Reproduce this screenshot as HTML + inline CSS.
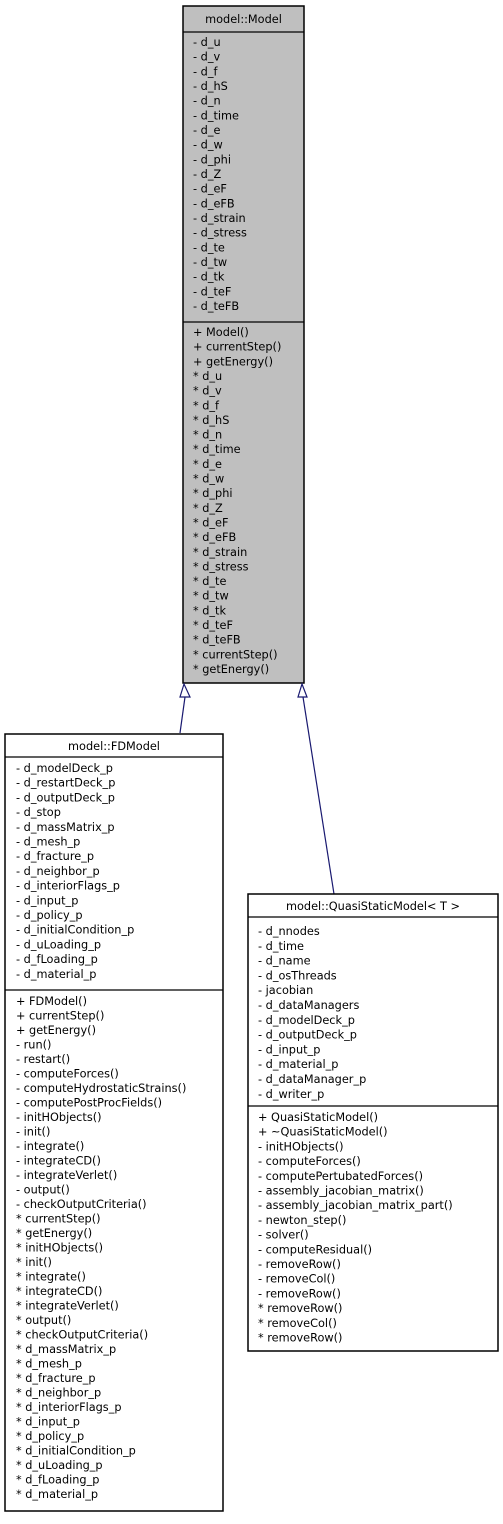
<!DOCTYPE html>
<html><head><meta charset="utf-8"><style>
html,body{margin:0;padding:0;background:#fff;}
svg text{font-family:"DejaVu Sans","Liberation Sans",sans-serif;font-size:11.3px;fill:#000;}
</style></head><body>
<svg width="503" height="1519" xmlns="http://www.w3.org/2000/svg">
<!-- Model -->
<rect x="183" y="6" width="121" height="677" fill="#bfbfbf" stroke="#000" stroke-width="1.5"/>
<line x1="183" y1="32" x2="304" y2="32" stroke="#000" stroke-width="1.2"/>
<line x1="183" y1="322" x2="304" y2="322" stroke="#000" stroke-width="1.2"/>
<text x="243.5" y="23" text-anchor="middle">model::Model</text>
<g>
<text x="193" y="46">- d_u</text>
<text x="193" y="60.67">- d_v</text>
<text x="193" y="75.33">- d_f</text>
<text x="193" y="90">- d_hS</text>
<text x="193" y="104.67">- d_n</text>
<text x="193" y="119.33">- d_time</text>
<text x="193" y="134">- d_e</text>
<text x="193" y="148.67">- d_w</text>
<text x="193" y="163.33">- d_phi</text>
<text x="193" y="178">- d_Z</text>
<text x="193" y="192.67">- d_eF</text>
<text x="193" y="207.33">- d_eFB</text>
<text x="193" y="222">- d_strain</text>
<text x="193" y="236.67">- d_stress</text>
<text x="193" y="251.33">- d_te</text>
<text x="193" y="266">- d_tw</text>
<text x="193" y="280.67">- d_tk</text>
<text x="193" y="295.33">- d_teF</text>
<text x="193" y="310">- d_teFB</text>
</g>
<g>
<text x="193" y="336">+ Model()</text>
<text x="193" y="350.65">+ currentStep()</text>
<text x="193" y="365.3">+ getEnergy()</text>
<text x="193" y="379.95">* d_u</text>
<text x="193" y="394.6">* d_v</text>
<text x="193" y="409.25">* d_f</text>
<text x="193" y="423.9">* d_hS</text>
<text x="193" y="438.55">* d_n</text>
<text x="193" y="453.2">* d_time</text>
<text x="193" y="467.85">* d_e</text>
<text x="193" y="482.5">* d_w</text>
<text x="193" y="497.15">* d_phi</text>
<text x="193" y="511.8">* d_Z</text>
<text x="193" y="526.45">* d_eF</text>
<text x="193" y="541.1">* d_eFB</text>
<text x="193" y="555.75">* d_strain</text>
<text x="193" y="570.4">* d_stress</text>
<text x="193" y="585.05">* d_te</text>
<text x="193" y="599.7">* d_tw</text>
<text x="193" y="614.35">* d_tk</text>
<text x="193" y="629">* d_teF</text>
<text x="193" y="643.65">* d_teFB</text>
<text x="193" y="658.3">* currentStep()</text>
<text x="193" y="673">* getEnergy()</text>
</g>

<!-- connectors -->
<line x1="180" y1="733" x2="185" y2="697" stroke="#191970" stroke-width="1.2"/>
<polygon points="184,684 180,697 190,697" fill="#fff" stroke="#191970" stroke-width="1.2"/>
<line x1="334" y1="894" x2="303" y2="697" stroke="#191970" stroke-width="1.2"/>
<polygon points="302,684 298,697 307,697" fill="#fff" stroke="#191970" stroke-width="1.2"/>

<!-- FDModel -->
<rect x="5" y="734" width="218" height="777" fill="#fff" stroke="#000" stroke-width="1.5"/>
<line x1="5" y1="757" x2="223" y2="757" stroke="#000" stroke-width="1.2"/>
<line x1="5" y1="990" x2="223" y2="990" stroke="#000" stroke-width="1.2"/>
<text x="114" y="750" text-anchor="middle">model::FDModel</text>
<g>
<text x="16" y="772">- d_modelDeck_p</text>
<text x="16" y="786.7">- d_restartDeck_p</text>
<text x="16" y="801.4">- d_outputDeck_p</text>
<text x="16" y="816.1">- d_stop</text>
<text x="16" y="830.8">- d_massMatrix_p</text>
<text x="16" y="845.5">- d_mesh_p</text>
<text x="16" y="860.2">- d_fracture_p</text>
<text x="16" y="874.9">- d_neighbor_p</text>
<text x="16" y="889.6">- d_interiorFlags_p</text>
<text x="16" y="904.3">- d_input_p</text>
<text x="16" y="919">- d_policy_p</text>
<text x="16" y="933.7">- d_initialCondition_p</text>
<text x="16" y="948.4">- d_uLoading_p</text>
<text x="16" y="963.1">- d_fLoading_p</text>
<text x="16" y="977.8">- d_material_p</text>
</g>
<g>
<text x="16" y="1005">+ FDModel()</text>
<text x="16" y="1019.5">+ currentStep()</text>
<text x="16" y="1034">+ getEnergy()</text>
<text x="16" y="1048.5">- run()</text>
<text x="16" y="1063">- restart()</text>
<text x="16" y="1077.5">- computeForces()</text>
<text x="16" y="1092">- computeHydrostaticStrains()</text>
<text x="16" y="1106.5">- computePostProcFields()</text>
<text x="16" y="1121">- initHObjects()</text>
<text x="16" y="1135.5">- init()</text>
<text x="16" y="1150">- integrate()</text>
<text x="16" y="1164.5">- integrateCD()</text>
<text x="16" y="1179">- integrateVerlet()</text>
<text x="16" y="1193.5">- output()</text>
<text x="16" y="1208">- checkOutputCriteria()</text>
<text x="16" y="1222.5">* currentStep()</text>
<text x="16" y="1237">* getEnergy()</text>
<text x="16" y="1251.5">* initHObjects()</text>
<text x="16" y="1266">* init()</text>
<text x="16" y="1280.5">* integrate()</text>
<text x="16" y="1295">* integrateCD()</text>
<text x="16" y="1309.5">* integrateVerlet()</text>
<text x="16" y="1324">* output()</text>
<text x="16" y="1338.5">* checkOutputCriteria()</text>
<text x="16" y="1353">* d_massMatrix_p</text>
<text x="16" y="1367.5">* d_mesh_p</text>
<text x="16" y="1382">* d_fracture_p</text>
<text x="16" y="1396.5">* d_neighbor_p</text>
<text x="16" y="1411">* d_interiorFlags_p</text>
<text x="16" y="1425.5">* d_input_p</text>
<text x="16" y="1440">* d_policy_p</text>
<text x="16" y="1454.5">* d_initialCondition_p</text>
<text x="16" y="1469">* d_uLoading_p</text>
<text x="16" y="1483.5">* d_fLoading_p</text>
<text x="16" y="1498">* d_material_p</text>
</g>

<!-- QuasiStaticModel -->
<rect x="248" y="894" width="250" height="457" fill="#fff" stroke="#000" stroke-width="1.5"/>
<line x1="248" y1="917" x2="498" y2="917" stroke="#000" stroke-width="1.2"/>
<line x1="248" y1="1106" x2="498" y2="1106" stroke="#000" stroke-width="1.2"/>
<text x="373" y="910" text-anchor="middle">model::QuasiStaticModel&lt; T &gt;</text>
<g>
<text x="258" y="935">- d_nnodes</text>
<text x="258" y="949.8">- d_time</text>
<text x="258" y="964.6">- d_name</text>
<text x="258" y="979.4">- d_osThreads</text>
<text x="258" y="994.2">- jacobian</text>
<text x="258" y="1009">- d_dataManagers</text>
<text x="258" y="1023.8">- d_modelDeck_p</text>
<text x="258" y="1038.6">- d_outputDeck_p</text>
<text x="258" y="1053.4">- d_input_p</text>
<text x="258" y="1068.2">- d_material_p</text>
<text x="258" y="1083">- d_dataManager_p</text>
<text x="258" y="1097.8">- d_writer_p</text>
</g>
<g>
<text x="258" y="1121">+ QuasiStaticModel()</text>
<text x="258" y="1135.7">+ ~QuasiStaticModel()</text>
<text x="258" y="1150.4">- initHObjects()</text>
<text x="258" y="1165.1">- computeForces()</text>
<text x="258" y="1179.8">- computePertubatedForces()</text>
<text x="258" y="1194.5">- assembly_jacobian_matrix()</text>
<text x="258" y="1209.2">- assembly_jacobian_matrix_part()</text>
<text x="258" y="1223.9">- newton_step()</text>
<text x="258" y="1238.6">- solver()</text>
<text x="258" y="1253.3">- computeResidual()</text>
<text x="258" y="1268">- removeRow()</text>
<text x="258" y="1282.7">- removeCol()</text>
<text x="258" y="1297.4">- removeRow()</text>
<text x="258" y="1312.1">* removeRow()</text>
<text x="258" y="1326.8">* removeCol()</text>
<text x="258" y="1341.5">* removeRow()</text>
</g>
</svg>
</body></html>
